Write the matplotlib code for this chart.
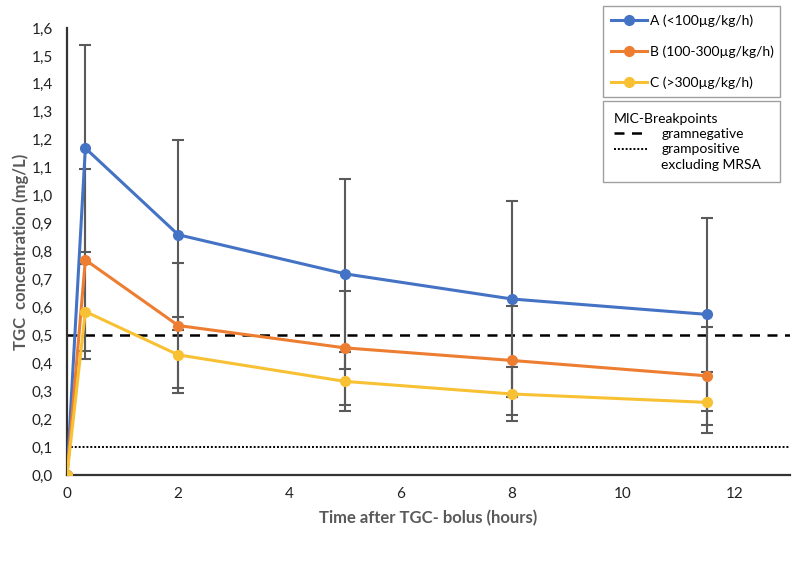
import matplotlib
matplotlib.use("Agg")
import matplotlib.pyplot as plt
from matplotlib.lines import Line2D

plt.rcParams['font.family'] = ['Lato', 'DejaVu Sans']

time_h = [0, 0.33, 2, 5, 8, 11.5]
series_names = ["A (<100µg/kg/h)", "B (100-300µg/kg/h)", "C (>300µg/kg/h)"]
conc_a = [0.0, 1.17, 0.86, 0.72, 0.63, 0.575]
conc_b = [0.0, 0.77, 0.535, 0.455, 0.41, 0.355]
conc_c = [0.0, 0.585, 0.43, 0.335, 0.29, 0.26]
sd_a = [0.0, 0.37, 0.34, 0.34, 0.35, 0.345]
sd_b = [0.0, 0.325, 0.225, 0.205, 0.195, 0.175]
sd_c = [0.0, 0.17, 0.135, 0.105, 0.095, 0.11]
colors = ["#4472C4", "#ED7D31", "#F8C133"]
mic_gramneg = 0.5
mic_grampos = 0.1
mic_title = "MIC-Breakpoints"
mic_labels = ["gramnegative", "grampositive", "excluding MRSA"]
y_ticks = [i / 10 for i in range(0, 17)]
y_ticklabels = [f"{v:.1f}".replace(".", ",") for v in y_ticks]
x_ticks = [0, 2, 4, 6, 8, 10, 12]

fig = plt.figure(figsize=(7.97, 5.61), dpi=100)
ax = fig.add_axes([67/797, 1-475/561, (790-67)/797, (475-28)/561])

ax.axhline(mic_gramneg, color="black", lw=1.8, ls=(0, (4, 3)), zorder=1)
ax.axhline(mic_grampos, color="black", lw=1.4, ls=(0, (1, 1)), zorder=1)

for vals, sds in zip([conc_a, conc_b, conc_c], [sd_a, sd_b, sd_c]):
    ax.errorbar(time_h[1:], vals[1:], yerr=sds[1:], fmt="none", ecolor="#5a5a5a",
                elinewidth=1.5, capsize=4, capthick=1.5, zorder=2)
for vals, c in zip([conc_a, conc_b, conc_c], colors):
    ax.plot(time_h, vals, color=c, lw=2.2, marker="o", ms=7, zorder=3)

ax.set_xlim(0, 13)
ax.set_ylim(0, 1.6)
ax.set_yticks(y_ticks)
ax.set_yticklabels(y_ticklabels)
ax.set_xticks(x_ticks)
ax.tick_params(axis="y", length=0, labelsize=11, pad=10, colors="#222222")
ax.tick_params(axis="x", length=0, labelsize=11, pad=9, colors="#222222")
for s in ["top", "right"]:
    ax.spines[s].set_visible(False)
for s in ["left", "bottom"]:
    ax.spines[s].set_color("#333333")
    ax.spines[s].set_linewidth(1.6)
ax.set_ylabel("TGC  concentration (mg/L)", fontsize=12, fontweight="bold", color="#595959", labelpad=2)
ax.set_xlabel("Time after TGC- bolus (hours)", fontsize=12, fontweight="bold", color="#595959", labelpad=6)

h1 = [Line2D([], [], color=c, lw=2.2, marker="o", ms=7) for c in colors]
leg1 = fig.legend(h1, series_names, loc="upper left",
                  bbox_to_anchor=(603/797, 1-7/561, (780-603)/797, 0.001), mode="expand",
                  borderaxespad=0, frameon=True, fancybox=False, edgecolor="#888888", fontsize=10,
                  handlelength=2.6, handletextpad=0.2, labelspacing=1.3, borderpad=0.6)
leg1.get_frame().set_linewidth(1.0)

h2 = [Line2D([], [], color="black", lw=1.8, ls=(0, (4, 3))),
      Line2D([], [], color="black", lw=1.4, ls=(0, (1, 1))),
      Line2D([], [], color="none")]
leg2 = fig.legend(h2, mic_labels, loc="upper left",
                  title=mic_title, title_fontsize=10, alignment="left",
                  bbox_to_anchor=(603/797, 1-102/561, (780-603)/797, 0.001), mode="expand",
                  borderaxespad=0, frameon=True, fancybox=False, edgecolor="#888888", fontsize=10,
                  handlelength=2.4, handletextpad=1.0, labelspacing=0.25, borderpad=0.8)
leg2.get_frame().set_linewidth(1.0)

fig.savefig("out.png", dpi=100, facecolor="white")
